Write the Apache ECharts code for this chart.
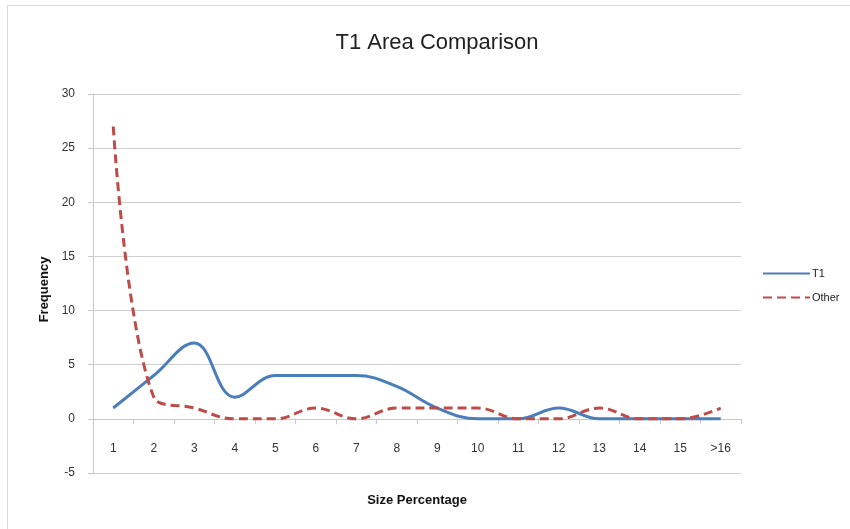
<!DOCTYPE html>
<html>
<head>
<meta charset="utf-8">
<script src="https://cdn.jsdelivr.net/npm/echarts@6/dist/echarts.min.js"></script>
<style>html,body{margin:0;padding:0;background:#fff}#c{width:850px;height:529px}</style>
</head>
<body>
<div id="c"></div>
<script>
var categories = ['1','2','3','4','5','6','7','8','9','10','11','12','13','14','15','>16'];
var t1Values = [1,4,7,2,4,4,4,3,1,0,0,1,0,0,0,0];
var otherValues = [27,2,1,0,0,1,0,1,1,1,0,0,1,0,0,1];
var yTicks = {min:-5, max:30, interval:5};

var chart = echarts.init(document.getElementById('c'), null, {renderer:'canvas'});
var font = 'Liberation Sans, Arial, sans-serif';
chart.setOption({
  animation:false,
  backgroundColor:'#fff',
  title:{text:'T1 Area Comparison', left:432, top:27, textAlign:'center',
    textStyle:{fontFamily:font, fontSize:22, fontWeight:'normal', color:'#222'}},
  grid:{left:93, right:109, top:94, bottom:56, containLabel:false, outerBoundsMode:'none'},
  legend:{orient:'vertical', left:757, top:263, itemWidth:47, itemHeight:10, itemGap:13,
    itemStyle:{opacity:0},
    textStyle:{fontFamily:font, fontSize:11, color:'#222', padding:[0,0,0,-3]},
    data:['T1','Other']},
  xAxis:{type:'category', data:categories, boundaryGap:true,
    name:'Size Percentage', nameLocation:'middle', nameGap:21,
    nameTextStyle:{fontFamily:font, fontSize:13, fontWeight:'bold', color:'#111'},
    axisLine:{onZero:true, lineStyle:{color:'#c8c8c8', width:1}},
    axisTick:{show:true, alignWithLabel:false, length:5, lineStyle:{color:'#c8c8c8'}},
    axisLabel:{fontFamily:font, fontSize:12, color:'#333', margin:-30},
    splitLine:{show:false}},
  yAxis:{type:'value', min:yTicks.min, max:yTicks.max, interval:yTicks.interval,
    name:'Frequency', nameLocation:'middle', nameGap:40, nameRotate:90,
    nameTextStyle:{fontFamily:font, fontSize:13, fontWeight:'bold', color:'#111', padding:[0,12,0,0]},
    axisLine:{show:true, lineStyle:{color:'#c8c8c8', width:1}},
    axisTick:{show:true, length:5, lineStyle:{color:'#c8c8c8'}},
    axisLabel:{fontFamily:font, fontSize:12, color:'#333', margin:18},
    splitLine:{show:true, lineStyle:{color:'#cfcfcf', width:1}}},
  series:[
    {name:'T1', type:'line', data:t1Values, smooth:0.4, showSymbol:false, symbol:'none',
      lineStyle:{color:'#4A7EBB', width:3}, itemStyle:{color:'#4A7EBB'}},
    {name:'Other', type:'line', data:otherValues, smooth:0.4, showSymbol:false, symbol:'none',
      lineStyle:{color:'#BE4B48', width:3, type:[9,5]}, itemStyle:{color:'#BE4B48'}}
  ],
  graphic:[
    {type:'line', shape:{x1:7.5,y1:5.5,x2:850,y2:5.5}, style:{stroke:'#d9d9d9', lineWidth:1}, silent:true},
    {type:'line', shape:{x1:7.5,y1:5.5,x2:7.5,y2:529}, style:{stroke:'#d9d9d9', lineWidth:1}, silent:true}
  ]
});
</script>
</body>
</html>
